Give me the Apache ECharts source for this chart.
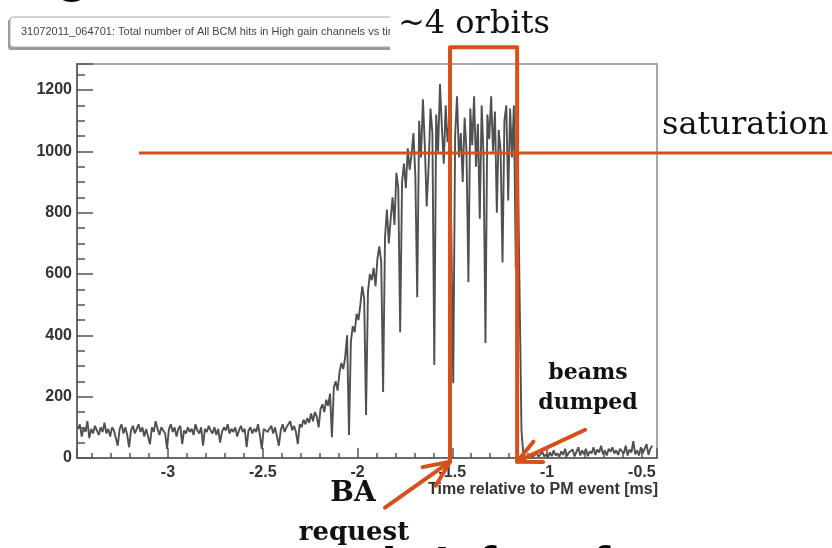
<!DOCTYPE html>
<html><head><meta charset="utf-8">
<script src="https://cdn.jsdelivr.net/npm/echarts@6/dist/echarts.min.js"></script>
<style>html,body{margin:0;padding:0;background:#fff}#c{width:832px;height:548px}</style>
</head><body><div id="c"></div>
<script>
// ---- data ----
const binStart = -3.475;     // centre of first bin [ms]
const binWidth = 0.01;       // bin width [ms]
const hits = [
  95,110,70,100,85,120,65,95,80,105,
  90,75,100,85,115,80,95,70,100,90,
  85,40,95,110,80,100,75,35,90,105,
  80,95,110,85,100,70,95,90,45,100,
  85,120,95,75,100,90,80,30,95,110,
  85,100,70,95,105,45,90,80,100,85,
  95,75,110,90,80,100,40,95,85,105,
  90,80,100,75,95,50,85,100,90,110,
  80,95,85,100,70,90,105,85,95,35,
  90,100,80,95,85,110,75,30,95,100,
  85,90,105,80,100,95,40,90,110,85,
  100,95,120,90,105,85,45,110,100,125,
  110,130,115,145,120,150,135,100,160,175,
  150,190,170,210,68,230,250,220,280,310,
  290,330,400,75,380,430,410,470,450,500,
  560,520,140,540,600,580,620,560,650,690,
  640,215,720,810,700,780,850,760,930,880,
  410,900,960,880,1010,940,990,1060,920,524,
  1100,980,1170,1020,820,950,1140,1060,303,1120,
  1000,1220,1080,960,1150,1030,1100,730,244,1050,
  1180,980,1060,900,1110,1000,573,1140,1020,1180,
  950,1090,780,1150,980,375,1120,1040,1180,1000,
  1130,800,1070,1000,638,1100,1150,840,1140,980,
  1150,618,1010,540,90,
  10,3,8,2,12,5,0,15,4,10,
  20,5,12,3,18,6,25,8,15,4,
  22,10,30,6,18,12,28,5,20,35,
  8,25,12,30,6,22,15,35,10,28,
  18,40,12,25,8,30,20,35,15,25,
  10,30,22,15,40,8,28,18,55,12,
  25,8,35,15,20,45,10,30,40
];
const xRange = [-3.48, -0.42];
const yRange = [0, 1285];
const yTickStep = 200;
const titleText = '31072011_064701: Total number of All BCM hits in High gain channels vs time';
const xAxisTitle = 'Time relative to PM event [ms]';
// annotations (in data units)
const saturationLevel = 995;
const saturationSpan = [-3.153, 0.504];
const baRequestTime = -1.512;
const beamsDumpedTime = -1.158;
const bracketTop = 1340;
const bracketBottom = -12;
const baArrowTail = [-1.855, -162];
const dumpArrowTail = [-0.799, 92];

const ORANGE = '#d6501c';
const chart = echarts.init(document.getElementById('c'), null, {renderer: 'canvas'});
const seriesData = hits.map((v, i) => [+(binStart + i * binWidth).toFixed(4), v]);

const labelFont = {color: '#333', fontFamily: 'Liberation Sans', fontSize: 16, fontWeight: 'bold'};
chart.setOption({
  animation: false,
  backgroundColor: '#fff',
  grid: {left: 77, right: 175, top: 64, bottom: 90, show: true, borderColor: '#a8a8a8', borderWidth: 2, backgroundColor: 'transparent'},
  xAxis: {
    type: 'value', min: xRange[0], max: xRange[1], splitNumber: 5,
    axisLine: {show: true, onZero: false, lineStyle: {color: '#555', width: 1.5}},
    axisTick: {show: true, inside: true, length: 10, lineStyle: {color: '#555', width: 1.5}},
    minorTick: {show: true, splitNumber: 5, length: 5, lineStyle: {color: '#555', width: 1.5}},
    splitLine: {show: false},
    axisLabel: Object.assign({showMinLabel: false, showMaxLabel: false, margin: 7, formatter: v => String(+v.toFixed(2))}, labelFont)
  },
  yAxis: {
    type: 'value', min: yRange[0], max: yRange[1], interval: yTickStep,
    axisLine: {show: true, onZero: false, lineStyle: {color: '#555', width: 1.5}},
    axisTick: {show: true, inside: true, length: 16, lineStyle: {color: '#555', width: 1.5}},
    minorTick: {show: true, splitNumber: 4, length: 8, lineStyle: {color: '#555', width: 1.5}},
    splitLine: {show: false},
    axisLabel: Object.assign({showMaxLabel: false, margin: 5, formatter: v => String(v)}, labelFont)
  },
  series: [{
    type: 'line', data: seriesData, showSymbol: false, clip: true,
    lineStyle: {color: '#505050', width: 1.9}, z: 2
  }]
});

const P = (t, v) => chart.convertToPixel({gridIndex: 0}, [t, v]);

function arrow(tip, tail, len, ang) {
  const a = Math.atan2(tail[1] - tip[1], tail[0] - tip[0]);
  const h1 = [tip[0] + len * Math.cos(a + ang), tip[1] + len * Math.sin(a + ang)];
  const h2 = [tip[0] + len * Math.cos(a - ang), tip[1] + len * Math.sin(a - ang)];
  const st = {stroke: ORANGE, lineWidth: 4, lineCap: 'round', lineJoin: 'round', fill: null};
  return [
    {type: 'polyline', shape: {points: [tail, tip]}, style: st, z: 20},
    {type: 'polyline', shape: {points: [h1, tip, h2]}, style: st, z: 20}
  ];
}

const satL = P(saturationSpan[0], saturationLevel), satR = P(saturationSpan[1], saturationLevel);
const bBL = P(baRequestTime, bracketBottom), bTL = P(baRequestTime, bracketTop);
const bTR = P(beamsDumpedTime, bracketTop), bBR = P(beamsDumpedTime, bracketBottom);

const serif = 'DejaVu Serif';
const big = 'bold 56px "Liberation Sans"';
const elements = [
  // cropped slide title fragments
  {type: 'text', x: 72, y: -25, style: {text: 'g', font: big, fill: '#000', align: 'center', verticalAlign: 'middle'}, z: 5},
  {type: 'text', x: 389, y: 571, style: {text: 'l', font: big, fill: '#000', align: 'center', verticalAlign: 'middle'}, z: 5},
  {type: 'text', x: 442, y: 572, style: {text: 'l', font: big, fill: '#000', align: 'center', verticalAlign: 'middle'}, z: 5},
  {type: 'text', x: 487, y: 570, style: {text: 'f', font: big, fill: '#000', align: 'center', verticalAlign: 'middle'}, z: 5},
  {type: 'text', x: 601, y: 570, style: {text: 'f', font: big, fill: '#000', align: 'center', verticalAlign: 'middle'}, z: 5},
  // title box
  {type: 'rect', shape: {x: 8, y: 19, width: 400, height: 31, r: 3}, style: {fill: '#9a9a9a'}, z: 5},
  {type: 'rect', shape: {x: 10, y: 17, width: 400, height: 30, r: 3}, style: {fill: '#fff', stroke: '#aaa', lineWidth: 1}, z: 6},
  {type: 'text', x: 21, y: 32, style: {text: titleText, font: '11px "Liberation Sans"', fill: '#444', verticalAlign: 'middle'}, z: 7},
  {type: 'rect', shape: {x: 390, y: 8, width: 60, height: 50}, style: {fill: '#fff'}, z: 8},
  // axis title
  {type: 'text', x: 658, y: 490, style: {text: xAxisTitle, font: 'bold 16px "Liberation Sans"', fill: '#333', align: 'right', verticalAlign: 'middle'}, z: 5},
  // orange annotations
  {type: 'polyline', shape: {points: [satL, satR]}, style: {stroke: ORANGE, lineWidth: 3, fill: null}, z: 20},
  {type: 'polyline', shape: {points: [bBL, bTL, bTR, bBR]}, style: {stroke: ORANGE, lineWidth: 4, lineJoin: 'round', fill: null}, z: 20},
  ...arrow(bBL, P(baArrowTail[0], baArrowTail[1]), 28, 0.42),
  ...arrow(bBR, P(dumpArrowTail[0], dumpArrowTail[1]), 26, 0.45),
  // annotation texts
  {type: 'text', x: 398, y: 25, style: {text: '~4 orbits', font: '32px "' + serif + '"', fill: '#111', verticalAlign: 'middle'}, z: 21},
  {type: 'text', x: 662, y: 126, style: {text: 'saturation', font: '32px "' + serif + '"', fill: '#111', verticalAlign: 'middle'}, z: 21},
  {type: 'text', x: 588, y: 373, style: {text: 'beams', font: 'bold 22px "' + serif + '"', fill: '#111', align: 'center', verticalAlign: 'middle'}, z: 21},
  {type: 'text', x: 588, y: 403, style: {text: 'dumped', font: 'bold 22px "' + serif + '"', fill: '#111', align: 'center', verticalAlign: 'middle'}, z: 21},
  {type: 'text', x: 353, y: 494, style: {text: 'BA', font: 'bold 28px "' + serif + '"', fill: '#111', align: 'center', verticalAlign: 'middle'}, z: 21},
  {type: 'text', x: 354, y: 533, style: {text: 'request', font: 'bold 26px "' + serif + '"', fill: '#111', align: 'center', verticalAlign: 'middle'}, z: 21}
];
chart.setOption({graphic: {elements: elements}});
</script>
</body></html>
